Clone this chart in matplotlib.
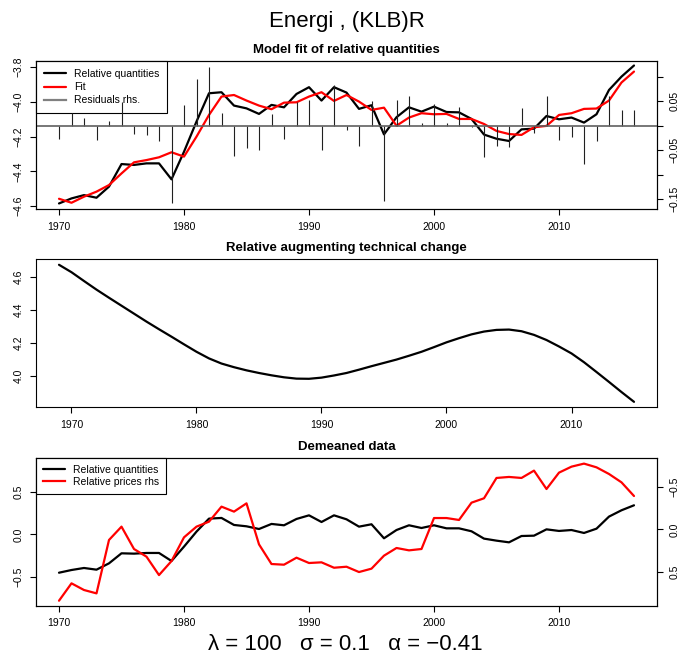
import numpy as np
import matplotlib
matplotlib.use("Agg")
import matplotlib.pyplot as plt
from matplotlib.lines import Line2D

plt.rcParams['font.family'] = ['Liberation Sans', 'DejaVu Sans']

years = list(range(1970, 2017))
rel_quant = [-4.585, -4.556, -4.537, -4.552, -4.488, -4.358, -4.363, -4.354, -4.354, -4.446,
             -4.287, -4.113, -3.950, -3.944, -4.021, -4.037, -4.069, -4.017, -4.031, -3.954,
             -3.915, -3.992, -3.915, -3.946, -4.040, -4.019, -4.187, -4.088, -4.031, -4.056,
             -4.027, -4.058, -4.060, -4.098, -4.188, -4.212, -4.225, -4.158, -4.154, -4.081,
             -4.100, -4.090, -4.119, -4.071, -3.931, -3.854, -3.790]
fit = [-4.558, -4.581, -4.546, -4.517, -4.479, -4.412, -4.348, -4.335, -4.319, -4.290,
       -4.315, -4.200, -4.075, -3.969, -3.960, -3.992, -4.021, -4.042, -4.004, -4.002,
       -3.969, -3.944, -3.994, -3.960, -3.998, -4.046, -4.033, -4.137, -4.090, -4.065,
       -4.071, -4.069, -4.098, -4.098, -4.127, -4.167, -4.185, -4.190, -4.146, -4.138,
       -4.075, -4.065, -4.040, -4.038, -3.992, -3.888, -3.825]
residuals = [-0.027, 0.025, 0.015, -0.030, 0.010, 0.048, -0.017, -0.020, -0.032, -0.157,
             0.042, 0.095, 0.120, 0.025, -0.062, -0.046, -0.050, 0.023, -0.027, 0.048,
             0.053, -0.050, 0.083, -0.009, -0.042, 0.050, -0.153, 0.052, 0.060, 0.005,
             0.045, 0.005, 0.038, -0.003, -0.064, -0.042, -0.044, 0.036, -0.014, 0.060,
             -0.029, -0.024, -0.078, -0.031, 0.060, 0.032, 0.032]

tech_years = list(range(1969, 2016))
tech_change = [4.673, 4.628, 4.575, 4.523, 4.474, 4.426, 4.378, 4.330, 4.284, 4.239,
               4.193, 4.148, 4.108, 4.077, 4.055, 4.036, 4.020, 4.006, 3.994, 3.986,
               3.985, 3.992, 4.005, 4.020, 4.040, 4.061, 4.081, 4.101, 4.124, 4.148,
               4.176, 4.205, 4.230, 4.253, 4.270, 4.280, 4.282, 4.272, 4.250, 4.219,
               4.180, 4.138, 4.085, 4.026, 3.966, 3.905, 3.846]

dm_quant = [-0.455, -0.423, -0.399, -0.419, -0.344, -0.225, -0.229, -0.221, -0.221, -0.316,
            -0.146, 0.032, 0.186, 0.194, 0.111, 0.095, 0.063, 0.123, 0.107, 0.182,
            0.225, 0.146, 0.225, 0.178, 0.091, 0.119, -0.047, 0.051, 0.107, 0.075,
            0.107, 0.071, 0.071, 0.036, -0.051, -0.075, -0.095, -0.020, -0.016, 0.059,
            0.040, 0.051, 0.016, 0.067, 0.210, 0.285, 0.344]
dm_prices = [0.846, 0.640, 0.719, 0.759, 0.126, -0.032, 0.233, 0.324, 0.542, 0.376,
             0.095, -0.032, -0.091, -0.269, -0.210, -0.308, 0.178, 0.411, 0.419, 0.336,
             0.399, 0.391, 0.455, 0.443, 0.506, 0.466, 0.312, 0.221, 0.249, 0.233,
             -0.134, -0.134, -0.111, -0.316, -0.368, -0.609, -0.621, -0.609, -0.696, -0.478,
             -0.672, -0.743, -0.779, -0.735, -0.656, -0.557, -0.395]

xticks = [1970, 1980, 1990, 2000, 2010]

W, H = 681, 654
fig = plt.figure(figsize=(W / 100, H / 100), dpi=100)

def make_ax(top_px, bot_px):
    l, r = 36, 657
    return fig.add_axes([l / W, 1 - bot_px / H, (r - l) / W, (bot_px - top_px) / H])

FS = 7.5
TL = 4.0
LW = 1.6

def style(ax):
    for s in ax.spines.values():
        s.set_linewidth(0.8)
        s.set_color('black')
    ax.tick_params(axis='both', direction='out', length=TL, width=0.8, labelsize=FS,
                   pad=5)
    ax.tick_params(axis='y', labelrotation=90)
    for lab in ax.get_yticklabels():
        lab.set_verticalalignment('center')

def ylab_center(ax):
    for lab in ax.get_yticklabels():
        lab.set_verticalalignment('center')

lkw = dict(solid_capstyle='round', solid_joinstyle='round')
legkw = dict(loc='upper left', bbox_to_anchor=(0, 1), borderaxespad=0,
             fontsize=FS, frameon=True, fancybox=False, framealpha=1,
             edgecolor='black', handlelength=2.1, handletextpad=0.8)

# ---------- Panel 1 ----------
ax1 = make_ax(61, 209)
l1, = ax1.plot(years, rel_quant, color='black', lw=LW, **lkw)
l2, = ax1.plot(years, fit, color='red', lw=LW, **lkw)
ax1.set_xlim(1968.16, 2017.84)
ax1.set_ylim(-4.617, -3.764)
ax1.set_xticks(xticks)
ax1.set_yticks([-4.6, -4.4, -4.2, -4.0, -3.8])
ax1.set_yticklabels(['−4.6', '−4.4', '−4.2', '−4.0', '−3.8'])
style(ax1)
ax1.set_title('Model fit of relative quantities', fontsize=9.5, fontweight='bold', pad=6)
h3 = Line2D([], [], color='gray', lw=LW)
leg1 = ax1.legend([l1, l2, h3], ['Relative quantities', 'Fit', 'Residuals rhs.'],
                  labelspacing=0.32, borderpad=0.75, **legkw)
leg1.get_frame().set_linewidth(0.8)

ax1r = ax1.twinx()
ax1r.vlines(years, 0, residuals, color='#202020', lw=0.8)
ax1r.axhline(0, color='#606060', lw=1.2)
ax1r.set_ylim(-0.17, 0.132)
ax1r.set_yticks([0.1, 0.05, 0.0, -0.05, -0.1, -0.15])
ax1r.set_yticklabels(['', '0.05', '', '−0.05', '', '−0.15'])
style(ax1r)
ylab_center(ax1r)

# ---------- Panel 2 ----------
ax2 = make_ax(259.3, 407.3)
ax2.plot(tech_years, tech_change, color='black', lw=LW, **lkw)
ax2.set_xlim(1967.16, 2016.84)
ax2.set_ylim(3.813, 4.706)
ax2.set_xticks(xticks)
ax2.set_yticks([4.0, 4.2, 4.4, 4.6])
ax2.set_yticklabels(['4.0', '4.2', '4.4', '4.6'])
style(ax2)
ax2.set_title('Relative augmenting technical change', fontsize=9.5, fontweight='bold', pad=6)

# ---------- Panel 3 ----------
ax3 = make_ax(458.3, 605.7)
m1, = ax3.plot(years, dm_quant, color='black', lw=LW, **lkw)
ax3.set_xlim(1968.16, 2017.84)
ax3.set_ylim(-0.846, 0.901)
ax3.set_xticks(xticks)
ax3.set_yticks([-0.5, 0.0, 0.5])
ax3.set_yticklabels(['−0.5', '0.0', '0.5'])
style(ax3)
ax3.set_title('Demeaned data', fontsize=9.5, fontweight='bold', pad=6)
m2 = Line2D([], [], color='red', lw=LW)
leg3 = ax3.legend([m1, m2], ['Relative quantities', 'Relative prices rhs'],
                  labelspacing=0.18, borderpad=0.65, **legkw)
leg3.get_frame().set_linewidth(0.8)

ax3r = ax3.twinx()
ax3r.plot(years, dm_prices, color='red', lw=LW, **lkw)
ax3r.set_ylim(0.905, -0.842)
ax3r.set_yticks([-0.5, 0.0, 0.5])
ax3r.set_yticklabels(['−0.5', '0.0', '0.5'])
style(ax3r)
ylab_center(ax3r)

fig.text(346.5 / W, 1 - 27 / H, 'Energi , (KLB)R', ha='center', va='baseline', fontsize=16)
fig.text(345 / W, 4 / H, 'λ = 100   σ = 0.1   α = −0.41', ha='center', va='baseline',
         fontsize=16)

fig.savefig('out.png', dpi=100)
